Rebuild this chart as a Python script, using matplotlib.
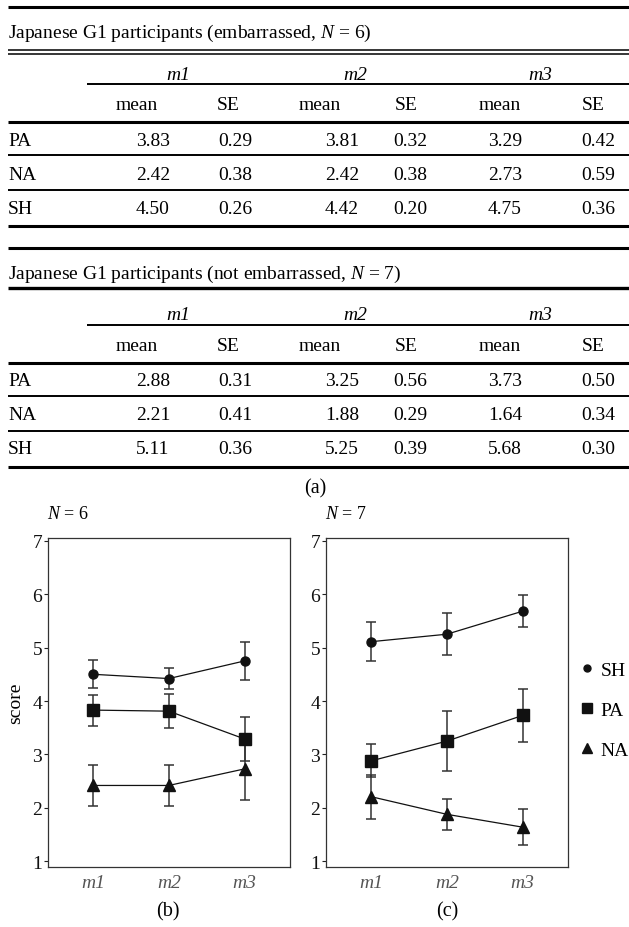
import matplotlib.pyplot as plt
from matplotlib.lines import Line2D

plt.rcParams["font.family"] = ["Liberation Serif", "DejaVu Serif"]
plt.rcParams["mathtext.fontset"] = "custom"
plt.rcParams["mathtext.rm"] = "Liberation Serif"
plt.rcParams["mathtext.it"] = "Liberation Serif:italic"

W, H = 629, 928

measures = ["m1", "m2", "m3"]
scales = ["PA", "NA", "SH"]

# rows: PA, NA, SH; columns: m1, m2, m3
emb_mean = [[3.83, 3.81, 3.29], [2.42, 2.42, 2.73], [4.50, 4.42, 4.75]]
emb_se = [[0.29, 0.32, 0.42], [0.38, 0.38, 0.59], [0.26, 0.20, 0.36]]
not_mean = [[2.88, 3.25, 3.73], [2.21, 1.88, 1.64], [5.11, 5.25, 5.68]]
not_se = [[0.31, 0.56, 0.50], [0.41, 0.29, 0.34], [0.36, 0.39, 0.30]]

MARKERS = {"SH": "o", "PA": "s", "NA": "^"}
MSIZE = {"SH": 6.5, "PA": 8, "NA": 8.5}

fig = plt.figure(figsize=(W / 100, H / 100), dpi=100)
bg = fig.add_axes([0, 0, 1, 1])
bg.set_xlim(0, W)
bg.set_ylim(H, 0)
bg.axis("off")

FS = 14
head_x = [178, 355, 540]
mean_hx = [137, 320, 500]
se_hx = [228, 406, 593]
mean_vx = [153, 342, 505]
se_vx = [235, 410, 598]


def hline(y, lw, x0=8, x1=640):
    bg.add_line(Line2D([x0, x1], [y, y], color="black", lw=lw, solid_capstyle="butt"))


def draw_table(y0, title, means, ses, double_rule):
    hline(y0, 2.2)
    bg.text(8, y0 + 25, title, fontsize=FS, va="center", ha="left")
    if double_rule:
        hline(y0 + 43, 1.1)
        hline(y0 + 47, 1.1)
    else:
        hline(y0 + 40, 2.4)
    for x, m in zip(head_x, measures):
        bg.text(x, y0 + 67, m, fontsize=FS, style="italic", ha="center", va="center")
    hline(y0 + 77, 1.4, x0=87)
    for j in range(3):
        bg.text(mean_hx[j], y0 + 98, "mean", fontsize=FS, ha="center", va="center")
        bg.text(se_hx[j], y0 + 98, "SE", fontsize=FS, ha="center", va="center")
    hline(y0 + 115, 2.2)
    row_y = [y0 + 133, y0 + 167, y0 + 201]
    for i, name in enumerate(scales):
        bg.text(8, row_y[i], name, fontsize=FS, ha="left", va="center")
        for j in range(3):
            bg.text(mean_vx[j], row_y[i], f"{means[i][j]:.2f}", fontsize=FS, ha="center", va="center")
            bg.text(se_vx[j], row_y[i], f"{ses[i][j]:.2f}", fontsize=FS, ha="center", va="center")
    hline(y0 + 148, 1.4)
    hline(y0 + 183, 1.4)
    hline(y0 + 219, 2.2)


draw_table(8, r"Japanese G1 participants (embarrassed, $N$ = 6)", emb_mean, emb_se, True)
draw_table(249, r"Japanese G1 participants (not embarrassed, $N$ = 7)", not_mean, not_se, False)
bg.text(315, 489, "(a)", fontsize=14.5, ha="center", va="center")


def px_axes(x0, x1, y0, y1):
    return fig.add_axes([x0 / W, 1 - y1 / H, (x1 - x0) / W, (y1 - y0) / H])


def draw_plot(ax, means, ses):
    x = [1, 2, 3]
    for name in ["SH", "PA", "NA"]:
        i = scales.index(name)
        ax.errorbar(x, means[i], yerr=ses[i], fmt="-", marker=MARKERS[name], ms=MSIZE[name],
                    color="#111111", mfc="#111111", mec="#111111", lw=0.9,
                    ecolor="#333333", elinewidth=1.1, capsize=3.5, capthick=1.1)
    ax.set_xlim(0.4, 3.6)
    ax.set_ylim(0.9, 7.05)
    ax.set_xticks(x, measures)
    ax.set_yticks(range(1, 8))
    ax.tick_params(axis="y", labelsize=14, length=3, width=0.8, pad=1, colors="#222222", labelcolor="#111111")
    ax.tick_params(axis="x", labelsize=14, length=0, pad=5, labelcolor="#555555")
    for lab in ax.get_xticklabels():
        lab.set_style("italic")
    for sp in ax.spines.values():
        sp.set_linewidth(0.9)
        sp.set_color("#333333")


ax1 = px_axes(47.7, 290, 539, 867.7)
draw_plot(ax1, emb_mean, emb_se)
ax1.set_ylabel("score", fontsize=14)
ax1.yaxis.set_label_coords(-24 / 242, 0.5)

ax2 = px_axes(325.7, 568, 539, 867.7)
draw_plot(ax2, not_mean, not_se)

bg.text(47, 515, r"$N$ = 6", fontsize=13, ha="left", va="center")
bg.text(325, 515, r"$N$ = 7", fontsize=13, ha="left", va="center")
bg.text(168, 912, "(b)", fontsize=14.5, ha="center", va="center")
bg.text(447, 912, "(c)", fontsize=14.5, ha="center", va="center")

handles = [Line2D([], [], ls="none", marker=MARKERS[n], ms=MSIZE[n] - 1.5, color="#111111") for n in ["SH", "PA", "NA"]]
fig.legend(handles, ["SH", "PA", "NA"], loc="center left", bbox_to_anchor=(581 / W, 1 - 711 / H),
           frameon=False, fontsize=14, handlelength=0.6, handletextpad=0.4, labelspacing=1.15,
           borderaxespad=0, borderpad=0)

fig.savefig("out.png", dpi=100)
